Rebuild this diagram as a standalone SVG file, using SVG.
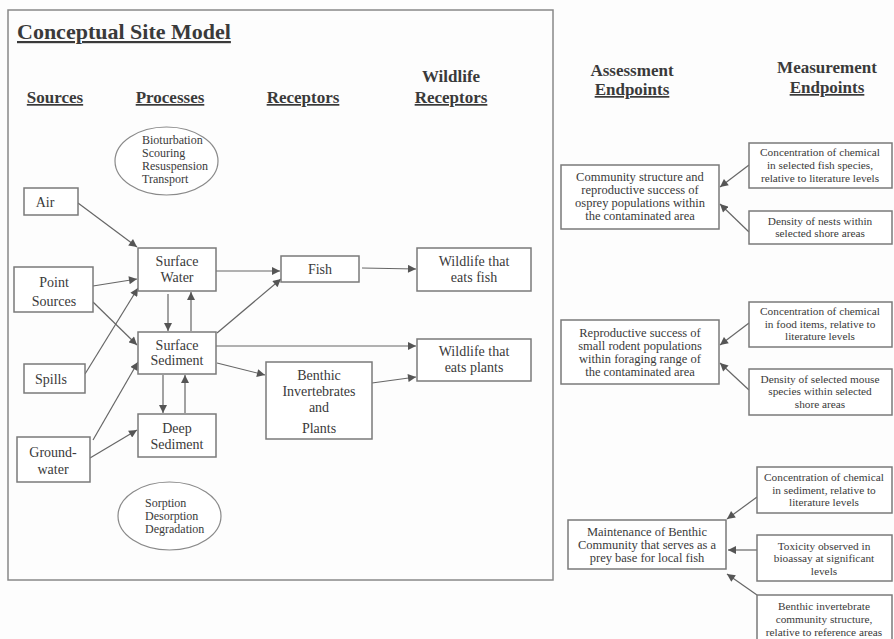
<svg xmlns="http://www.w3.org/2000/svg" width="894" height="639" viewBox="0 0 894 639">
<style>
text{font-family:"Liberation Serif","Times New Roman",serif;fill:#3a3a3a}
.box{fill:#fff;stroke:#7a7a7a;stroke-width:1.5}
.ell{fill:#fff;stroke:#8a8a8a;stroke-width:1.2}
.t{font-size:14px;text-anchor:middle}
.e{font-size:12px}
.h{font-size:17px;font-weight:bold;text-anchor:middle}
.u{text-decoration:underline}
.a{font-size:12.5px;text-anchor:middle}
.m{font-size:11.3px;text-anchor:middle}
.c line{stroke:#666;stroke-width:1.2;marker-end:url(#ah)}
</style>
<defs>
<marker id="ah" viewBox="0 0 10 10" refX="10" refY="5" markerWidth="9" markerHeight="8" markerUnits="userSpaceOnUse" orient="auto">
<path d="M0,0 L10,5 L0,10 Z" fill="#555"/>
</marker>
</defs>
<rect width="894" height="639" fill="#fdfdfd"/>
<rect id="frame" x="8" y="10" width="545" height="570" fill="none" stroke="#888" stroke-width="1.5"/>
<text x="17" y="39" font-size="22" font-weight="bold" class="u">Conceptual Site Model</text>
<g id="headers">
<text class="h u" x="55" y="103">Sources</text>
<text class="h u" x="170" y="103">Processes</text>
<text class="h u" x="303" y="103">Receptors</text>
<text class="h" x="451" y="82">Wildlife</text>
<text class="h u" x="451" y="103">Receptors</text>
<text class="h" x="632" y="76">Assessment</text>
<text class="h u" x="632" y="95">Endpoints</text>
<text class="h" x="827" y="73">Measurement</text>
<text class="h u" x="827" y="93">Endpoints</text>
</g>
<g id="ellipse-top"><ellipse class="ell" cx="166.5" cy="161" rx="51.5" ry="34"/>
<text class="e" x="142" y="144">Bioturbation</text><text class="e" x="142" y="157">Scouring</text><text class="e" x="142" y="170">Resuspension</text><text class="e" x="142" y="183">Transport</text></g>
<g id="ellipse-bottom"><ellipse class="ell" cx="169.5" cy="516" rx="51.5" ry="34"/>
<text class="e" x="145" y="507">Sorption</text><text class="e" x="145" y="520">Desorption</text><text class="e" x="145" y="533">Degradation</text></g>
<g class="c" id="connectors">
<line x1="78" y1="203" x2="137" y2="247"/>
<line x1="93" y1="286" x2="137" y2="279"/>
<line x1="93" y1="302" x2="137" y2="345"/>
<line x1="85" y1="374" x2="138" y2="288"/>
<line x1="93" y1="440" x2="138" y2="362"/>
<line x1="90" y1="458" x2="137" y2="430"/>
<line x1="168" y1="294" x2="168" y2="331"/>
<line x1="191" y1="331" x2="191" y2="292"/>
<line x1="163" y1="375" x2="163" y2="413"/>
<line x1="185" y1="413" x2="185" y2="375"/>
<line x1="213" y1="271" x2="280" y2="271"/>
<line x1="217" y1="333" x2="281" y2="279"/>
<line x1="216" y1="346" x2="416" y2="346"/>
<line x1="217" y1="363" x2="265" y2="375"/>
<line x1="362" y1="268" x2="416" y2="269"/>
<line x1="372" y1="383" x2="416" y2="377"/>
<line x1="749" y1="165" x2="720" y2="187"/>
<line x1="749" y1="232" x2="720" y2="204"/>
<line x1="749" y1="323" x2="720" y2="345"/>
<line x1="749" y1="390" x2="720" y2="363"/>
<line x1="757" y1="497" x2="727" y2="519"/>
<line x1="757" y1="550" x2="728" y2="550"/>
<line x1="757" y1="595" x2="727" y2="574"/>
</g>
<g id="air"><rect class="box" x="24" y="188" width="54" height="27"/><text class="t" x="45" y="207">Air</text></g>
<g id="point"><rect class="box" x="14" y="267" width="79" height="45"/><text class="t" x="54" y="287">Point</text><text class="t" x="54" y="306">Sources</text></g>
<g id="spills"><rect class="box" x="24" y="364" width="61" height="29"/><text class="t" x="51" y="384">Spills</text></g>
<g id="ground"><rect class="box" x="17" y="437" width="73" height="45"/><text class="t" x="53" y="457">Ground-</text><text class="t" x="53" y="474">water</text></g>
<g id="surface-water"><rect class="box" x="138" y="248" width="78" height="43"/><text class="t" x="177" y="266">Surface</text><text class="t" x="177" y="282">Water</text></g>
<g id="surface-sediment"><rect class="box" x="138" y="332" width="78" height="42"/><text class="t" x="177" y="350">Surface</text><text class="t" x="177" y="365">Sediment</text></g>
<g id="deep-sediment"><rect class="box" x="138" y="414" width="78" height="43"/><text class="t" x="177" y="433">Deep</text><text class="t" x="177" y="449">Sediment</text></g>
<g id="fish"><rect class="box" x="281" y="256" width="78" height="26"/><text class="t" x="320" y="274">Fish</text></g>
<g id="benthic"><rect class="box" x="266" y="362" width="106" height="77"/><text class="t" x="319" y="380">Benthic</text><text class="t" x="319" y="396">Invertebrates</text><text class="t" x="319" y="412">and</text><text class="t" x="319" y="433">Plants</text></g>
<g id="wildlife-fish"><rect class="box" x="417" y="248" width="114" height="43"/><text class="t" x="474" y="266">Wildlife that</text><text class="t" x="474" y="282">eats fish</text></g>
<g id="wildlife-plants"><rect class="box" x="417" y="339" width="114" height="42"/><text class="t" x="474" y="356">Wildlife that</text><text class="t" x="474" y="372">eats plants</text></g>
<g id="a1"><rect class="box" x="561" y="165" width="158" height="64"/><text class="a" x="640" y="181">Community structure and</text><text class="a" x="640" y="194">reproductive success of</text><text class="a" x="640" y="207">osprey populations within</text><text class="a" x="640" y="220">the contaminated area</text></g>
<g id="m1"><rect class="box" x="749" y="143" width="143" height="45"/><text class="m" x="820" y="156">Concentration of chemical</text><text class="m" x="820" y="169">in selected fish species,</text><text class="m" x="820" y="182">relative to literature levels</text></g>
<g id="m2"><rect class="box" x="749" y="211" width="143" height="33"/><text class="m" x="820" y="225">Density of  nests within</text><text class="m" x="820" y="237">selected shore areas</text></g>
<g id="a2"><rect class="box" x="561" y="320" width="158" height="64"/><text class="a" x="640" y="337">Reproductive success of</text><text class="a" x="640" y="350">small rodent populations</text><text class="a" x="640" y="363">within foraging range of</text><text class="a" x="640" y="376">the contaminated area</text></g>
<g id="m3"><rect class="box" x="749" y="302" width="143" height="45"/><text class="m" x="820" y="315">Concentration of chemical</text><text class="m" x="820" y="328">in food items, relative to</text><text class="m" x="820" y="340">literature levels</text></g>
<g id="m4"><rect class="box" x="749" y="369" width="143" height="46"/><text class="m" x="820" y="383">Density of selected mouse</text><text class="m" x="820" y="395">species within selected</text><text class="m" x="820" y="408">shore areas</text></g>
<g id="a3"><rect class="box" x="568" y="520" width="158" height="49"/><text class="a" x="647" y="536">Maintenance of Benthic</text><text class="a" x="647" y="549">Community that serves as a</text><text class="a" x="647" y="562">prey base for local fish</text></g>
<g id="m5"><rect class="box" x="757" y="467" width="135" height="46"/><text class="m" x="824" y="481">Concentration of chemical</text><text class="m" x="824" y="494">in sediment, relative to</text><text class="m" x="824" y="506">literature levels</text></g>
<g id="m6"><rect class="box" x="757" y="535" width="135" height="46"/><text class="m" x="824" y="550">Toxicity observed in</text><text class="m" x="824" y="562">bioassay at significant</text><text class="m" x="824" y="575">levels</text></g>
<g id="m7"><rect class="box" x="757" y="595" width="135" height="50"/><text class="m" x="824" y="610">Benthic invertebrate</text><text class="m" x="824" y="623">community structure,</text><text class="m" x="824" y="636">relative to reference areas</text></g>
</svg>
